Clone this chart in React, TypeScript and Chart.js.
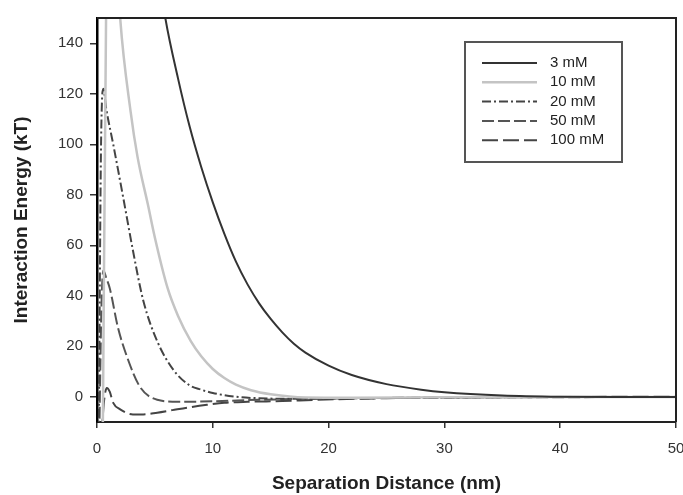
import React, { useEffect, useRef } from "react";
import { Chart, registerables } from "chart.js";

Chart.register(...registerables);

// Separation distance (nm) and interaction energy (kT) per electrolyte concentration
const distance3 = [5.0, 5.9, 7, 8, 9, 10, 11, 12, 13, 14, 15, 16, 17, 18, 20, 22, 25, 28, 30, 35, 40, 45, 50];
const energy3 = [178, 150, 126, 107, 91, 77, 64.5, 53.5, 44.5, 37, 30.8, 25.5, 21, 17.5, 12.3, 8.6, 5, 2.8, 1.8, 0.5, 0, -0.1, -0.1];

const distance10 = [0.5, 0.8, 1.2, 2.0, 2.9, 3.5, 4.4, 5, 6.1, 7, 8.1, 9, 10, 11, 12, 13.3, 15, 18, 22, 30, 50];
const energy10 = [-15, 160, 215, 150, 113, 95, 76, 63, 43, 32, 22, 16, 11, 7.4, 4.8, 2.6, 1, -0.3, -0.4, -0.2, -0.1];

const distance20 = [0.15, 0.35, 0.55, 0.8, 1.4, 2.3, 3.1, 4.0, 5.2, 6.6, 8, 9, 10, 12, 14, 17, 20, 25, 30, 40, 50];
const energy20 = [-15, 100, 122, 114, 100, 78, 58, 38, 22, 10.6, 4.5, 2.8, 1.5, 0, -0.6, -0.8, -0.7, -0.5, -0.3, -0.1, -0.1];

const distance50 = [0.2, 0.38, 0.55, 0.8, 1.1, 1.8, 2.6, 3.7, 5.2, 7, 10, 14, 20, 30, 50];
const energy50 = [-15, 35, 50, 47, 43, 27.6, 15.7, 4, -1.2, -2, -1.8, -1.2, -0.7, -0.3, -0.1];

const distance100 = [0.4, 0.6, 0.85, 1.1, 1.4, 2, 3.1, 4, 5.2, 6.5, 7.8, 9.5, 11, 13, 16, 19, 25, 32, 40, 50];
const energy100 = [-15, -2, 3.5, 2, -2.4, -5, -7, -7, -6.3, -5.3, -4.3, -3.2, -2.4, -2, -1.7, -1.2, -0.6, -0.3, -0.1, 0];

const seriesLabels = ["3 mM", "10 mM", "20 mM", "50 mM", "100 mM"];
const yTickValues = [0, 20, 40, 60, 80, 100, 120, 140];
const xTickValues = [0, 10, 20, 30, 40, 50];

const FONT = '"Liberation Sans", Arial, sans-serif';

function pts(xs: number[], ys: number[]) {
  return xs.map((x, i) => ({ x, y: ys[i] }));
}

const framePlugin = {
  id: "frame",
  afterDraw(chart: any) {
    const { ctx, chartArea } = chart;
    ctx.save();
    ctx.strokeStyle = "#222";
    ctx.lineWidth = 2;
    ctx.beginPath();
    ctx.moveTo(chartArea.left, chartArea.top);
    ctx.lineTo(chartArea.right, chartArea.top);
    ctx.lineTo(chartArea.right, chartArea.bottom);
    ctx.stroke();
    ctx.restore();
  },
};

const boxLegendPlugin = {
  id: "boxLegend",
  afterDatasetsDraw(chart: any) {
    const { ctx, chartArea } = chart;
    const left = chartArea.left + 368;
    const top = chartArea.top + 24;
    const w = 157;
    const h = 120;
    ctx.save();
    ctx.fillStyle = "#fff";
    ctx.fillRect(left, top, w, h);
    ctx.strokeStyle = "#555";
    ctx.lineWidth = 2;
    ctx.strokeRect(left, top, w, h);
    chart.data.datasets.forEach((ds: any, i: number) => {
      const y = top + 21 + i * 19.3;
      ctx.beginPath();
      ctx.setLineDash(ds.borderDash || []);
      ctx.strokeStyle = ds.borderColor;
      ctx.lineWidth = ds.borderWidth;
      ctx.moveTo(left + 17, y);
      ctx.lineTo(left + 72, y);
      ctx.stroke();
      ctx.setLineDash([]);
      ctx.fillStyle = "#222";
      ctx.font = `15px ${FONT}`;
      ctx.textBaseline = "middle";
      ctx.textAlign = "left";
      ctx.fillText(ds.label, left + 85, y);
    });
    ctx.restore();
  },
};

export default function App() {
  const canvasRef = useRef<HTMLCanvasElement | null>(null);

  useEffect(() => {
    document.body.style.margin = "0";
    const canvas = canvasRef.current;
    if (!canvas) return;
    const styles = [
      { color: "#333", dash: [] as number[], width: 2 },
      { color: "#c4c4c4", dash: [] as number[], width: 2.5 },
      { color: "#444", dash: [9, 3, 2, 3], width: 2 },
      { color: "#555", dash: [12, 4], width: 2 },
      { color: "#444", dash: [16, 5], width: 2 },
    ];
    const xs = [distance3, distance10, distance20, distance50, distance100];
    const ys = [energy3, energy10, energy20, energy50, energy100];
    const chart = new Chart(canvas, {
      type: "line",
      data: {
        datasets: seriesLabels.map((label, i) => ({
          label,
          data: pts(xs[i], ys[i]),
          borderColor: styles[i].color,
          borderDash: styles[i].dash,
          borderWidth: styles[i].width,
          pointRadius: 0,
          fill: false,
          cubicInterpolationMode: "monotone" as const,
        })),
      },
      options: {
        responsive: false,
        animation: false,
        layout: { padding: { top: 18, left: 0, right: 7, bottom: 0 } },
        plugins: {
          legend: { display: false },
          tooltip: { enabled: false },
        },
        scales: {
          x: {
            type: "linear",
            min: 0,
            max: 50,
            afterBuildTicks: (scale: any) => {
              scale.ticks = xTickValues.map((v) => ({ value: v }));
            },
            afterFit: (scale: any) => {
              scale.height = 73;
              scale.paddingLeft = 0;
              scale.paddingRight = 0;
            },
            grid: { display: true, drawOnChartArea: false, drawTicks: true, tickLength: 6, color: "#333", lineWidth: 1.5 },
            border: { display: true, color: "#222", width: 2 },
            ticks: { color: "#333", font: { family: FONT, size: 15 }, padding: 12, maxRotation: 0 },
            title: {
              display: true,
              text: "Separation Distance (nm)",
              color: "#222",
              font: { family: FONT, size: 19, weight: "bold" },
              padding: { top: 0, bottom: 0 },
            },
          },
          y: {
            type: "linear",
            min: -10,
            max: 150,
            afterBuildTicks: (scale: any) => {
              scale.ticks = yTickValues.map((v) => ({ value: v }));
            },
            afterFit: (scale: any) => {
              scale.width = 97;
            },
            grid: { display: true, drawOnChartArea: false, drawTicks: true, tickLength: 7, color: "#333", lineWidth: 1.5 },
            border: { display: true, color: "#000", width: 2.5 },
            ticks: { color: "#333", font: { family: FONT, size: 15 }, padding: 7 },
            title: {
              display: true,
              text: "Interaction Energy (kT)",
              color: "#222",
              font: { family: FONT, size: 19, weight: "bold" },
              padding: { top: 10, bottom: 0 },
            },
          },
        },
      },
      plugins: [framePlugin, boxLegendPlugin],
    });
    return () => chart.destroy();
  }, []);

  return (
    <div style={{ width: 683, height: 495 }}>
      <canvas ref={canvasRef} width={683} height={495} />
    </div>
  );
}
